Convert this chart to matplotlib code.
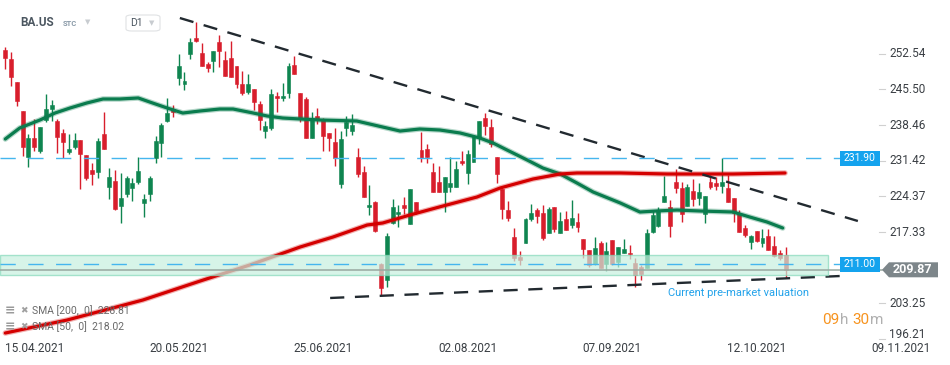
import matplotlib
matplotlib.use("Agg")
import matplotlib.pyplot as plt
from matplotlib.patches import Rectangle, Polygon, FancyBboxPatch
import numpy as np

plt.rcParams['font.family'] = ['Roboto', 'DejaVu Sans']

# daily candles BA.US, bar index 0 = 08.04.2021
opens = [253.30, 251.52, 246.98, 241.25, 232.16, 235.91, 233.34, 239.47, 241.64, 239.27,
         236.90, 233.14, 234.13, 235.52, 232.55, 229.59, 229.19, 236.70, 226.23, 227.41,
         222.47, 224.85, 226.03, 227.22, 223.07, 224.85, 231.96, 234.92, 239.27, 241.64,
         247.77, 246.58, 252.51, 255.67, 252.71, 250.53, 251.13, 254.88, 251.32, 251.72,
         250.14, 246.58, 245.00, 245.59, 242.63, 237.29, 237.89, 244.21, 243.82, 244.80,
         250.34, 244.80, 243.62, 235.91, 240.26, 239.67, 236.90, 235.12, 226.82, 237.89,
         237.29, 232.16, 229.19, 222.28, 223.27, 211.01, 207.85, 219.12, 220.89, 222.67,
         218.92, 223.27, 233.54, 233.74, 229.19, 227.22, 225.24, 226.23, 226.23, 231.37,
         229.00, 231.17, 235.91, 239.86, 238.08, 232.16, 225.83, 221.68, 216.35, 212.40,
         215.16, 219.91, 221.68, 221.09, 217.14, 222.28, 217.14, 219.91, 218.72, 219.31,
         215.95, 213.78, 211.01, 215.16, 211.01, 215.76, 211.41, 213.19, 213.19, 211.21,
         210.42, 210.22, 217.34, 218.52, 223.27, 222.28, 227.22, 226.03, 222.47, 225.44,
         224.06, 220.89, 227.22, 227.02, 226.43, 226.03, 224.06, 221.09, 218.13, 215.36,
         217.53, 215.16, 216.55, 214.57, 213.19, 212.79]
closes = [251.72, 247.96, 243.22, 234.13, 235.91, 234.13, 238.08, 241.64, 242.43, 236.11,
          235.12, 233.74, 235.52, 232.75, 228.01, 228.80, 235.32, 233.74, 228.21, 221.88,
          224.06, 228.01, 227.02, 229.39, 223.86, 228.01, 235.32, 238.48, 240.85, 241.05,
          250.14, 247.17, 254.88, 255.08, 250.14, 249.74, 253.10, 253.10, 248.16, 247.96,
          246.58, 244.80, 246.58, 243.02, 239.47, 238.28, 244.61, 243.82, 244.21, 250.14,
          248.56, 239.86, 235.91, 239.86, 239.67, 236.31, 235.91, 231.96, 235.71, 239.07,
          238.48, 228.80, 224.25, 222.67, 217.53, 206.27, 216.55, 222.28, 221.29, 222.08,
          225.83, 221.49, 231.96, 232.16, 225.24, 225.24, 228.21, 227.02, 229.79, 230.97,
          232.75, 236.11, 239.27, 238.28, 234.73, 228.80, 221.88, 220.10, 212.20, 211.80,
          219.91, 221.09, 220.50, 216.15, 221.88, 217.93, 219.51, 217.73, 220.10, 218.33,
          213.98, 210.82, 214.18, 210.22, 213.58, 211.01, 214.37, 213.98, 212.99, 208.84,
          209.04, 217.14, 220.70, 221.68, 224.45, 218.52, 226.03, 220.89, 226.23, 223.86,
          225.24, 224.45, 226.23, 226.43, 227.22, 223.27, 221.09, 217.34, 216.74, 216.55,
          215.56, 216.15, 213.78, 212.59, 212.20, 209.87]
highs = [253.89, 252.90, 246.98, 241.25, 236.70, 239.67, 238.08, 244.61, 243.42, 239.67,
         237.69, 236.70, 236.90, 235.52, 232.55, 230.97, 235.91, 241.05, 229.98, 229.59,
         229.00, 228.40, 228.01, 232.16, 224.85, 228.40, 236.31, 238.87, 243.82, 242.43,
         252.51, 248.95, 255.67, 258.83, 254.68, 250.93, 253.10, 256.26, 253.10, 255.08,
         250.14, 249.15, 248.56, 245.59, 243.22, 239.27, 245.59, 245.00, 246.78, 250.73,
         252.12, 244.80, 244.01, 241.05, 241.84, 239.86, 236.90, 237.89, 237.29, 240.26,
         240.65, 233.94, 230.38, 226.62, 223.46, 211.21, 217.14, 223.86, 222.67, 224.25,
         225.83, 223.27, 237.10, 234.73, 230.97, 230.38, 228.21, 232.16, 231.37, 233.34,
         233.54, 236.50, 239.27, 240.85, 239.67, 232.16, 225.83, 223.46, 218.13, 213.58,
         220.10, 222.87, 222.08, 222.67, 222.28, 222.28, 221.29, 221.49, 223.66, 221.09,
         215.95, 213.78, 216.35, 215.56, 215.36, 215.76, 214.37, 215.95, 214.77, 212.20,
         210.82, 217.93, 221.68, 222.28, 228.40, 223.66, 229.79, 227.22, 226.82, 227.81,
         227.02, 224.45, 228.60, 228.21, 231.96, 228.60, 224.06, 221.68, 218.72, 216.74,
         217.53, 217.93, 217.93, 216.55, 213.78, 214.37]
lows = [249.55, 246.19, 242.23, 232.35, 230.18, 233.34, 232.95, 239.07, 239.27, 232.95,
        231.96, 232.75, 233.74, 225.83, 227.61, 226.62, 228.01, 233.74, 223.86, 221.68,
        219.12, 224.25, 223.46, 226.82, 220.30, 223.46, 230.97, 232.16, 239.07, 240.06,
        246.38, 245.40, 251.52, 254.88, 250.14, 248.95, 248.95, 249.94, 248.16, 247.96,
        245.79, 244.41, 244.61, 241.44, 237.49, 235.91, 237.49, 241.05, 243.22, 243.82,
        248.56, 239.07, 235.91, 235.91, 238.68, 233.34, 233.34, 230.38, 226.03, 236.31,
        236.50, 228.21, 224.25, 220.70, 217.34, 204.89, 206.47, 218.92, 218.33, 220.89,
        218.92, 220.89, 231.17, 230.97, 225.24, 225.24, 221.29, 225.24, 226.23, 230.58,
        226.82, 231.17, 234.73, 236.50, 234.13, 227.02, 219.91, 219.51, 211.61, 210.82,
        215.16, 219.51, 219.12, 215.76, 217.14, 217.34, 217.14, 217.73, 218.13, 217.34,
        212.20, 210.42, 210.82, 210.22, 209.63, 210.82, 210.42, 213.19, 212.00, 206.47,
        207.85, 210.22, 217.14, 218.33, 223.27, 216.35, 225.04, 219.31, 222.47, 222.47,
        222.67, 219.12, 225.83, 225.64, 225.04, 223.27, 219.31, 217.34, 216.35, 213.98,
        215.36, 214.37, 213.78, 212.40, 211.80, 208.25]

# moving averages (bar index, value)
sma50_idx = [0, 2.5, 6, 8.6, 11.2, 14.1, 16.9, 19.8, 23, 25, 28, 30.7, 33.7, 37.1, 39.4, 42.9,
             45.3, 48, 51, 54.4, 60.8, 65.3, 68.3, 71.7, 75.2, 78.7, 82.1, 84.4, 86.8, 90.3,
             93, 96, 98.9, 101.7, 106.4, 109.8, 112.7, 116.2, 120.2, 125.9, 128.8, 131.8, 134.5]
sma50_val = [235.71, 237.89, 239.47, 240.85, 241.84, 242.83, 243.62, 243.62, 243.82, 243.02,
             241.84, 240.85, 241.25, 241.64, 241.64, 240.85, 240.26, 239.86, 239.67, 239.47,
             239.27, 238.08, 237.29, 237.69, 237.49, 236.90, 235.91, 234.92, 233.54, 231.56,
             229.98, 228.80, 227.02, 225.24, 223.07, 221.29, 221.49, 221.68, 221.49, 221.29,
             220.30, 219.31, 218.13]
sma200_idx = [0, 10.7, 23.8, 33.7, 42.3, 51, 56.7, 62.6, 65.3, 70, 75.7, 81.6, 85.6, 91.3,
              96, 98.9, 106.4, 114.5, 125.9, 134.9]
sma200_val = [197.38, 199.95, 203.90, 207.65, 210.82, 214.37, 216.35, 218.72, 219.12, 220.70,
              222.47, 224.25, 226.03, 227.81, 228.80, 229.00, 229.00, 228.80, 228.80, 229.00]

# drawn trend lines (bar index, price)
upper_trend_idx = [30.2, 147.5]
upper_trend_val = [259.62, 219.51]
lower_trend_idx = [56.2, 144.4]
lower_trend_val = [204.30, 208.64]

price_ticks = [252.54, 245.50, 238.46, 231.42, 224.37, 217.33, 203.25, 196.21]
date_labels = ['15.04.2021', '20.05.2021', '25.06.2021', '02.08.2021', '07.09.2021',
               '12.10.2021', '09.11.2021']
date_pos = [5, 30, 55, 80, 105, 130, 155]

resistance = 231.90
support = 211.00
last_price = 209.87
zone = (208.9, 212.85)

W, H = 950, 365
fig = plt.figure(figsize=(W / 100, H / 100), dpi=100)
ax = fig.add_axes([0, 0, 1, 1])
ax.set_xlim(-0.917, 163.44)
ax.set_ylim(191.06, 263.18)
ax.axis('off')

def fx(px):
    return px / W

def fy(py):
    return 1 - py / H

green = '#0f8550'
red = '#d81e2c'
idx = np.arange(len(opens))
o = np.array(opens); c = np.array(closes)
cols = [green if cc >= oo else red for oo, cc in zip(o, c)]
ax.vlines(idx, lows, highs, colors=cols, lw=1.0, zorder=2)
bot = np.minimum(o, c)
hgt = np.maximum(np.abs(c - o), 0.25)
ax.bar(idx, hgt, bottom=bot, width=0.68, color=cols, edgecolor=cols, lw=0.4, zorder=2)

# moving averages
ax.plot(sma50_idx, sma50_val, color='#0a7c4e', lw=4.0, alpha=0.3, zorder=3, solid_capstyle='round')
ax.plot(sma50_idx, sma50_val, color='#0a7c4e', lw=2.3, zorder=3, solid_capstyle='round')
ax.plot(sma200_idx, sma200_val, color='#d40000', lw=4.0, alpha=0.3, zorder=3, solid_capstyle='round')
ax.plot(sma200_idx, sma200_val, color='#d40000', lw=2.3, zorder=3, solid_capstyle='round')

# trend lines
ax.plot(upper_trend_idx, upper_trend_val, color='#222a30', lw=1.7, dashes=(6, 4.5), zorder=4)
ax.plot(lower_trend_idx, lower_trend_val, color='#222a30', lw=1.7, dashes=(6, 4.5), zorder=4)

# support zone
x_zone_end = (828 - 5.3) / 5.78
ax.add_patch(Rectangle((-0.917, zone[0]), x_zone_end + 0.917, zone[1] - zone[0],
                       facecolor='#c6f0df', edgecolor='#86d9ba', lw=1.0, alpha=0.7, zorder=5))

# horizontal levels
x_lvl_end = (840 - 5.3) / 5.78
for lvl in (resistance, support):
    ax.plot([-0.917, x_lvl_end], [lvl, lvl], color='#45b6ee', lw=1.0, dashes=(11, 9), zorder=6)
ax.plot([-0.917, (882 - 5.3) / 5.78], [last_price, last_price], color='#98a8a0', lw=1.1, zorder=6)

# value boxes on the right
trans = ax.get_yaxis_transform()
pxh = 0.1976  # price per pixel
for lvl in (resistance, support):
    ax.add_patch(Rectangle((fx(840), lvl - 7.5 * pxh), fx(40), 15 * pxh, transform=trans,
                           facecolor='#14a3ee', edgecolor='none', zorder=7))
    ax.text(fx(860), lvl, f'{lvl:.2f}', transform=trans, ha='center', va='center',
            color='white', fontsize=7.5, zorder=8)
ax.add_patch(Polygon([(fx(882), last_price), (fx(889), last_price + 7.5 * pxh),
                      (fx(938), last_price + 7.5 * pxh), (fx(938), last_price - 7.5 * pxh),
                      (fx(889), last_price - 7.5 * pxh)], closed=True, transform=trans,
                     facecolor='#7d868a', edgecolor='none', zorder=7))
ax.text(fx(912), last_price, f'{last_price:.2f}', transform=trans, ha='center', va='center',
        color='white', fontsize=9, fontweight='bold', zorder=8)

# price axis labels (lowest one is nudged up above the date row)
for p in price_ticks:
    ax.plot([fx(879), fx(885)], [p, p], color='#d0d0d0', lw=0.8, transform=trans)
    shift = 4.5 * pxh if p == price_ticks[-1] else 0
    ax.text(fx(889), p + shift, f'{p:.2f}', transform=trans, ha='left', va='center',
            color='#3a3f44', fontsize=8.5)

# date labels
xtrans = ax.get_xaxis_transform()
for pos, lab in zip(date_pos, date_labels):
    ax.text(pos, fy(348), lab, transform=xtrans, ha='center', va='center',
            color='#3a3f44', fontsize=8.5)

# header
ax.text(fx(20), fy(23), 'BA.US', transform=ax.transAxes, ha='left', va='center',
        fontsize=8.5, fontweight='bold', color='#4b5660')
ax.text(fx(63), fy(24), 'STC', transform=ax.transAxes, ha='left', va='center',
        fontsize=5.5, fontweight='bold', color='#8a9aa8')
ax.text(fx(88), fy(22), '▼', transform=ax.transAxes, ha='center', va='center',
        fontsize=5, color='#c8ccd0', family=['DejaVu Sans'])
ax.add_patch(FancyBboxPatch((fx(126), fy(31)), fx(34), 16 / H, boxstyle='round,pad=0,rounding_size=0.006',
                            transform=ax.transAxes, facecolor='white', edgecolor='#e0e2e4', lw=0.8))
ax.text(fx(130), fy(23), 'D1', transform=ax.transAxes, ha='left', va='center',
        fontsize=7.5, color='#4b5660')
ax.text(fx(152), fy(23), '▼', transform=ax.transAxes, ha='center', va='center',
        fontsize=5, color='#c8ccd0', family=['DejaVu Sans'])

# legend (drawn above the moving average lines)
for yy, lab in ((311, 'SMA [200,  0]  228.81'), (327, 'SMA [50,  0]  218.02')):
    ax.text(fx(5), fy(yy), '≡', transform=ax.transAxes, ha='left', va='center',
            fontsize=9, color='#9a9a9a', fontweight='bold', family=['DejaVu Sans'], zorder=9)
    ax.text(fx(20), fy(yy), '✖', transform=ax.transAxes, ha='left', va='center',
            fontsize=6.5, color='#a0a0a0', family=['DejaVu Sans'], zorder=9)
    ax.text(fx(32), fy(yy), lab, transform=ax.transAxes, ha='left', va='center',
            fontsize=7.5, color='#6a6a6a', zorder=9)

# annotation
ax.text(fx(668), fy(293), 'Current pre-market valuation', transform=ax.transAxes,
        ha='left', va='center', fontsize=8, color='#22a2ea')

# session countdown
for xx, s, col in ((822, '09', '#f7931e'), (840, 'h', '#b0b0b0'), (852, '30', '#f7931e'),
                   (870, 'm', '#b0b0b0')):
    ax.text(fx(xx), fy(320), s, transform=ax.transAxes, ha='left', va='center',
            fontsize=11, color=col)

fig.savefig('out.png', dpi=100)
